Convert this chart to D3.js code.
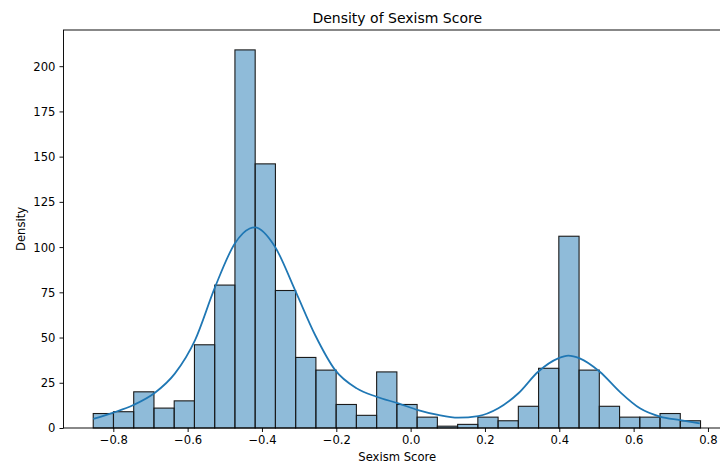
<!DOCTYPE html>
<html>
<head>
<meta charset="utf-8">
<script src="https://cdn.jsdelivr.net/npm/d3@7"></script>
<style>
  body { margin: 0; background: #fff; }
  svg { display: block; font-family: "DejaVu Sans", sans-serif; }
</style>
</head>
<body>
<svg id="chart" width="720" height="464"></svg>
<script>
// histogram: 30 bins between data min and max
const binStart = -0.854;
const binEnd = 0.780;
const counts = [8, 9, 20, 11, 15, 46, 79, 209, 146, 76, 39, 32, 13, 7, 31,
                13, 6, 1, 2, 6, 4, 12, 33, 106, 32, 12, 6, 6, 8, 4];

// kde curve (x, count-scaled density)
const kdeX = [-0.854, -0.800, -0.746, -0.688, -0.634, -0.580, -0.526, -0.473, -0.433, -0.419,
              -0.365, -0.311, -0.257, -0.203, -0.145, -0.092, -0.033, 0.020, 0.074, 0.128,
              0.182, 0.236, 0.290, 0.343, 0.397, 0.424, 0.455, 0.509, 0.563, 0.617,
              0.671, 0.725, 0.778];
const kdeY = [5.0, 8.5, 12.7, 19.5, 30.2, 48.6, 78, 102, 110.3, 110.9,
              100.2, 76.2, 51.4, 32, 21.9, 17.3, 13.6, 9.9, 7.2, 5.7,
              6.6, 10.9, 19.2, 31.1, 38.5, 40, 38.5, 31.1, 20, 10.9,
              6.3, 4.4, 2.6];

const xTicks = [-0.8, -0.6, -0.4, -0.2, 0.0, 0.2, 0.4, 0.6, 0.8];
const yTicks = [0, 25, 50, 75, 100, 125, 150, 175, 200];

const svg = d3.select("#chart");
const margin = { left: 63.5, top: 30, right: 731, bottom: 428 };

const x = d3.scaleLinear().domain([-0.934, 0.862]).range([margin.left, margin.right]);
const y = d3.scaleLinear().domain([0, 220]).range([margin.bottom, margin.top]);

const binW = (binEnd - binStart) / counts.length;
const bins = counts.map((c, i) => ({ x0: binStart + i * binW, x1: binStart + (i + 1) * binW, c }));

// bars
svg.append("g")
  .selectAll("rect")
  .data(bins)
  .join("rect")
    .attr("x", d => x(d.x0))
    .attr("y", d => y(d.c))
    .attr("width", d => x(d.x1) - x(d.x0))
    .attr("height", d => y(0) - y(d.c))
    .attr("fill", "rgba(31,119,180,0.5)")
    .attr("stroke", "#1a1a1a")
    .attr("stroke-width", 1.1);

// kde line
const kde = kdeX.map((v, i) => [v, kdeY[i]]);
svg.append("path")
  .datum(kde)
  .attr("fill", "none")
  .attr("stroke", "#1f77b4")
  .attr("stroke-width", 1.75)
  .attr("d", d3.line().x(d => x(d[0])).y(d => y(d[1])).curve(d3.curveMonotoneX));

// axes
const fmt = d => d3.format(".1f")(d).replace("-", "\u2212");
const xAxis = svg.append("g")
  .attr("transform", `translate(0,${margin.bottom})`)
  .call(d3.axisBottom(x).tickValues(xTicks).tickFormat(fmt).tickSize(4).tickPadding(4));
const yAxis = svg.append("g")
  .attr("transform", `translate(${margin.left},0)`)
  .call(d3.axisLeft(y).tickValues(yTicks).tickSize(4).tickPadding(4));

[xAxis, yAxis].forEach(a => {
  a.select(".domain").remove();
  a.selectAll("line").attr("stroke", "#000").attr("stroke-width", 0.93);
  a.selectAll("text").attr("fill", "#000").style("font-size", "11.6px")
    .style("font-family", "DejaVu Sans, sans-serif");
});
yAxis.selectAll("text").attr("dy", "0.34em");

// spines
svg.append("rect")
  .attr("x", margin.left)
  .attr("y", margin.top)
  .attr("width", margin.right - margin.left)
  .attr("height", margin.bottom - margin.top)
  .attr("fill", "none")
  .attr("stroke", "#000")
  .attr("stroke-width", 0.93);

// labels
const cx = (margin.left + margin.right) / 2;
svg.append("text")
  .attr("x", cx).attr("y", 23)
  .attr("text-anchor", "middle")
  .style("font-size", "14px")
  .text("Density of Sexism Score");

svg.append("text")
  .attr("x", cx).attr("y", 461)
  .attr("text-anchor", "middle")
  .style("font-size", "11.6px")
  .text("Sexism Score");

svg.append("text")
  .attr("transform", `translate(25,${(margin.top + margin.bottom) / 2}) rotate(-90)`)
  .attr("text-anchor", "middle")
  .style("font-size", "11.6px")
  .text("Density");
</script>
</body>
</html>
